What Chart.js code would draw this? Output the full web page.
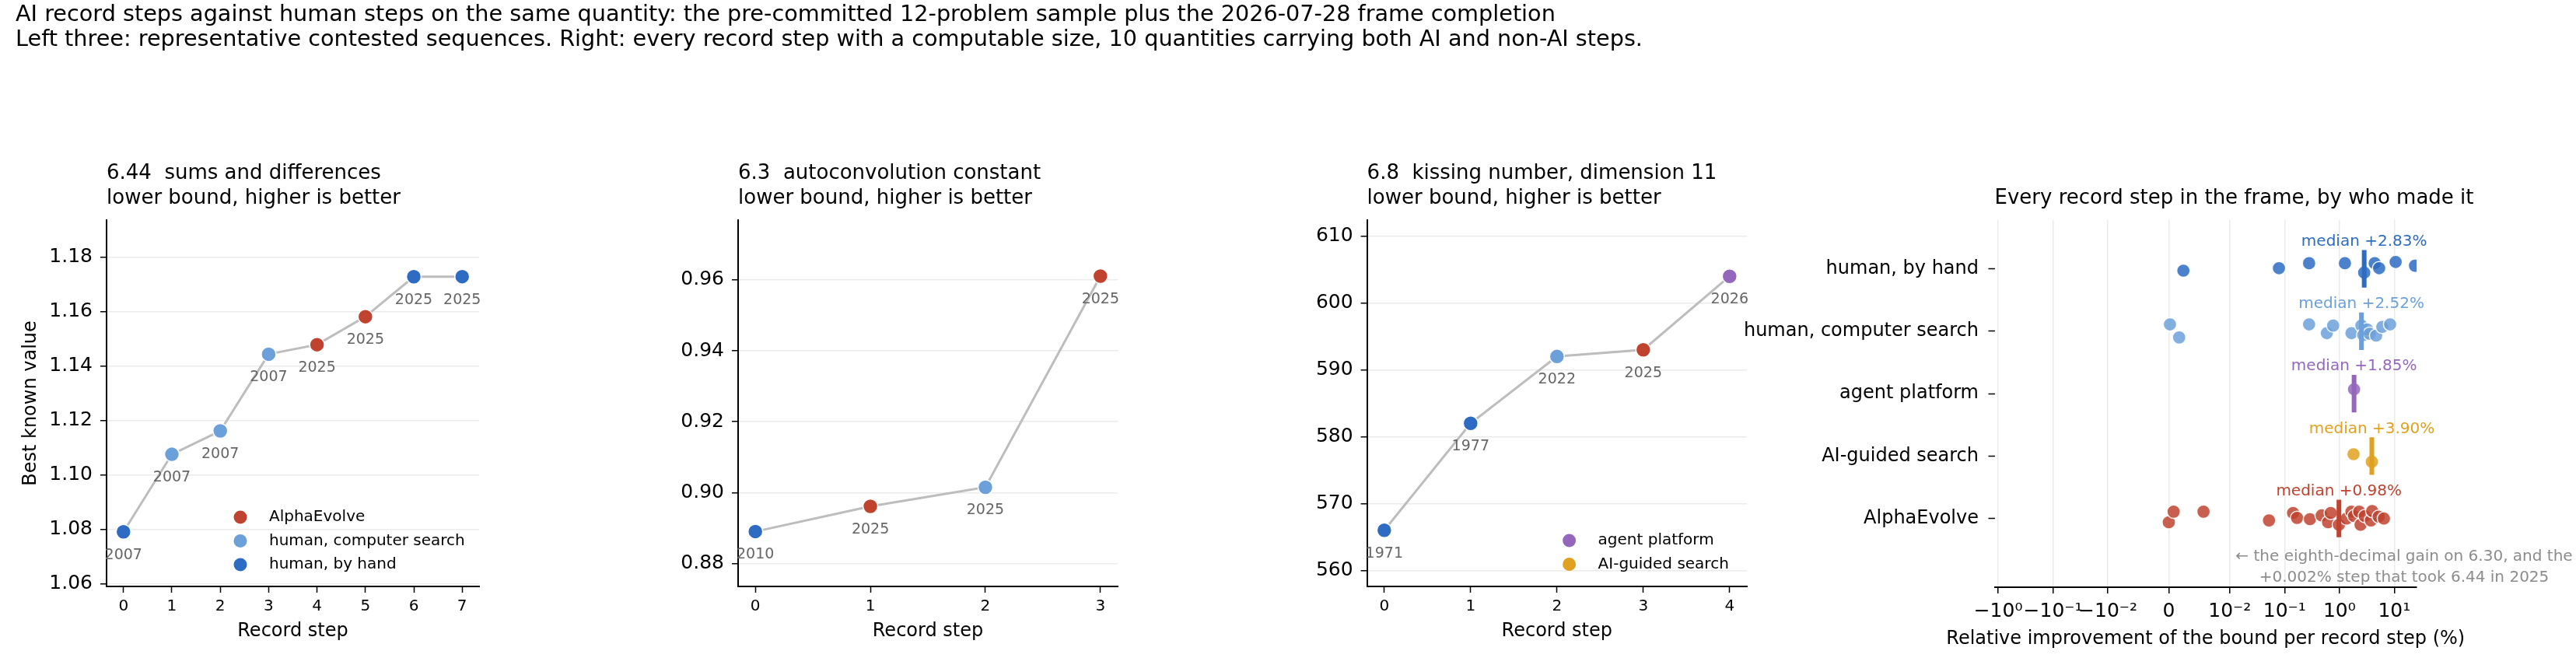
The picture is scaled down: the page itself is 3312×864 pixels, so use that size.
<!DOCTYPE html>
<html>
<head>
<meta charset="utf-8">
<script src="https://cdn.jsdelivr.net/npm/chart.js@4.4.1/dist/chart.umd.min.js"></script>
<style>
html,body{margin:0;padding:0;background:#fff;}
#wrap{position:relative;width:3312px;height:864px;overflow:hidden;background:#fff;}
#wrap canvas{position:absolute;left:0;top:0;width:3312px;height:864px;}
</style>
</head>
<body>
<div id="wrap">
<canvas id="c1" width="3312" height="864"></canvas>
<canvas id="c2" width="3312" height="864"></canvas>
<canvas id="c3" width="3312" height="864"></canvas>
<canvas id="c4" width="3312" height="864"></canvas>
</div>
<script>
// ---------------- DATA ----------------
const supTitle = [
  'AI record steps against human steps on the same quantity: the pre-committed 12-problem sample plus the 2026-07-28 frame completion',
  'Left three: representative contested sequences. Right: every record step with a computable size, 10 quantities carrying both AI and non-AI steps.'
];

const p1Title = ['6.44  sums and differences', 'lower bound, higher is better'];
const p1Steps = [0, 1, 2, 3, 4, 5, 6, 7];
const p1Values = [1.0791, 1.1076, 1.1162, 1.1444, 1.1479, 1.1582, 1.1729, 1.17292];
const p1Who = ['hand', 'comp', 'comp', 'comp', 'ae', 'ae', 'hand', 'hand'];
const p1Years = ['2007', '2007', '2007', '2007', '2025', '2025', '2025', '2025'];
const p1YTicks = [1.06, 1.08, 1.10, 1.12, 1.14, 1.16, 1.18];

const p2Title = ['6.3  autoconvolution constant', 'lower bound, higher is better'];
const p2Steps = [0, 1, 2, 3];
const p2Values = [0.8890, 0.8961, 0.9015, 0.9611];
const p2Who = ['hand', 'ae', 'comp', 'ae'];
const p2Years = ['2010', '2025', '2025', '2025'];
const p2YTicks = [0.88, 0.90, 0.92, 0.94, 0.96];

const p3Title = ['6.8  kissing number, dimension 11', 'lower bound, higher is better'];
const p3Steps = [0, 1, 2, 3, 4];
const p3Values = [566, 582, 592, 593, 604];
const p3Who = ['hand', 'hand', 'comp', 'ae', 'agent'];
const p3Years = ['1971', '1977', '2022', '2025', '2026'];
const p3YTicks = [560, 570, 580, 590, 600, 610];

const p4Title = ['Every record step in the frame, by who made it'];
const p4XTitle = 'Relative improvement of the bound per record step (%)';
const rowKeys = ['hand', 'comp', 'agent', 'aiguided', 'ae'];
const rowLabels = ['human, by hand', 'human, computer search', 'agent platform', 'AI-guided search', 'AlphaEvolve'];
// relative improvement per record step, in percent
const byHandSteps = [0.0024, 0.079, 0.28, 1.26, 2.83, 4.4, 5.3, 10.6, 23.9];
const byHandJitter = [0.03, -0.01, -0.09, -0.09, 0.06, -0.09, -0.01, -0.11, -0.05];
const compSearchSteps = [0.0002, 0.0017, 0.28, 0.59, 0.77, 1.66, 2.52, 2.72, 3.2, 3.56, 4.67, 6.05, 8.4];
const compSearchJitter = [-0.11, 0.10, -0.11, 0.03, -0.09, 0.03, -0.09, 0.06, -0.03, 0.04, 0.07, -0.07, -0.11];
const agentSteps = [1.85];
const agentJitter = [-0.07];
const aiGuidedSteps = [1.81, 3.90];
const aiGuidedJitter = [-0.03, 0.09];
const alphaEvolveSteps = [0.000001, 0.0008, 0.0057, 0.052, 0.143, 0.169, 0.29, 0.474, 0.622, 0.695, 0.98, 1.35, 1.66, 1.85, 2.30, 2.43, 2.9, 3.75, 3.96, 5.2, 6.47];
const alphaEvolveJitter = [0.06, -0.11, -0.11, 0.03, -0.09, -0.01, 0.01, -0.05, 0.06, -0.09, 0.10, 0.0, -0.11, -0.04, -0.11, 0.10, -0.04, 0.03, -0.12, -0.03, 0.0];
const medians = [2.83, 2.52, 1.85, 3.90, 0.98];
const p4XTicks = [-1, -0.1, -0.01, 0, 0.01, 0.1, 1, 10];
const p4XTickLabels = ['\u221210\u2070', '\u221210\u207B\u00B9', '\u221210\u207B\u00B2', '0', '10\u207B\u00B2', '10\u207B\u00B9', '10\u2070', '10\u00B9'];
const noteText = ['\u2190 the eighth-decimal gain on 6.30, and the', '+0.002% step that took 6.44 in 2025'];

// ---------------- STYLE ----------------
const FONT = '"DejaVu Sans", "Noto Sans", sans-serif';
Chart.defaults.font.family = FONT;
const RGB = {
  ae: [192, 67, 47],
  comp: [108, 160, 219],
  hand: [45, 108, 194],
  agent: [148, 103, 189],
  aiguided: [224, 161, 32]
};
const solid = k => `rgb(${RGB[k].join(',')})`;
const alpha = (k, a) => `rgba(${RGB[k].join(',')},${a})`;
const labelOf = {ae: 'AlphaEvolve', comp: 'human, computer search', hand: 'human, by hand', agent: 'agent platform', aiguided: 'AI-guided search'};

// ---------------- SYMLOG SCALE ----------------
const LINTHRESH = 0.01, LINSCALE = 1, BASE = 10;
const LINADJ = LINSCALE / (1 - 1 / BASE);
function symT(v) {
  const a = Math.abs(v);
  if (a <= LINTHRESH) return v / LINTHRESH * LINADJ;
  return Math.sign(v) * (LINADJ + Math.log10(a / LINTHRESH));
}
function symInv(t) {
  const a = Math.abs(t);
  if (a <= LINADJ) return t / LINADJ * LINTHRESH;
  return Math.sign(t) * LINTHRESH * Math.pow(10, a - LINADJ);
}
class SymlogScale extends Chart.Scale {
  determineDataLimits() {
    const mm = this.getMinMax(true);
    this.min = this.options.min ?? mm.min;
    this.max = this.options.max ?? mm.max;
  }
  buildTicks() { return []; }
  getLabelForValue(v) { return String(v); }
  configure() {
    super.configure();
    this._t0 = symT(this.min);
    this._t1 = symT(this.max);
  }
  getPixelForValue(v) {
    return this.getPixelForDecimal((symT(v) - this._t0) / (this._t1 - this._t0));
  }
  getValueForPixel(p) {
    const d = this.getDecimalForPixel(p);
    return symInv(this._t0 + d * (this._t1 - this._t0));
  }
}
SymlogScale.id = 'symlog';
SymlogScale.defaults = {};
Chart.register(SymlogScale);

// ---------------- OVERLAY PLUGIN ----------------
const overlay = {
  id: 'overlay',
  afterDraw(chart, args, o) {
    const ctx = chart.ctx, ca = chart.chartArea;
    ctx.save();
    if (o.suptitle) {
      ctx.textBaseline = 'alphabetic';
      ctx.font = `28.7px ${FONT}`; ctx.fillStyle = '#000'; ctx.textAlign = 'left';
      o.suptitle.forEach((t, i) => ctx.fillText(t, o.supX, o.supY[i]));
    }
    ctx.textBaseline = 'middle';
    if (o.title) {
      ctx.font = `26px ${FONT}`; ctx.fillStyle = '#000'; ctx.textAlign = 'left';
      o.title.forEach((t, i) => ctx.fillText(t, ca.left, o.titleY[i]));
    }
    if (o.xtitle) {
      ctx.font = `24px ${FONT}`; ctx.fillStyle = '#000'; ctx.textAlign = 'center';
      ctx.fillText(o.xtitle, (ca.left + ca.right) / 2, 822);
    }
    if (o.years) {
      const meta = chart.getDatasetMeta(0);
      ctx.font = `19px ${FONT}`; ctx.fillStyle = '#666666'; ctx.textAlign = 'center';
      meta.data.forEach((el, i) => ctx.fillText(o.years[i], el.x, el.y + 30));
    }
    if (o.legend) {
      ctx.font = `20px ${FONT}`; ctx.textAlign = 'left';
      o.legend.keys.forEach((k, i) => {
        const y = o.legend.y + i * 30.5;
        ctx.beginPath(); ctx.arc(o.legend.x, y, 8.5, 0, 2 * Math.PI);
        ctx.fillStyle = solid(k); ctx.fill();
        ctx.fillStyle = '#000'; ctx.fillText(labelOf[k], o.legend.x + 37, y);
      });
    }
    if (o.medians) {
      const xs = chart.scales.x, ys = chart.scales.y;
      ctx.font = `20px ${FONT}`; ctx.textAlign = 'center';
      o.medians.forEach((m, i) => {
        ctx.fillStyle = solid(rowKeys[i]);
        ctx.fillText('median +' + m.toFixed(2) + '%', xs.getPixelForValue(m), ys.getPixelForValue(i) - 35);
      });
    }
    if (o.note) {
      ctx.font = `20px ${FONT}`; ctx.textAlign = 'center'; ctx.fillStyle = '#8c8c8c';
      o.note.forEach((t, i) => ctx.fillText(t, 3091, 716 + i * 27));
    }
    ctx.restore();
  }
};

// ---------------- LINE PANELS ----------------
function linePanel(id, cfg) {
  const padLeft = cfg.L - cfg.W;
  new Chart(document.getElementById(id), {
    type: 'scatter',
    data: {
      datasets: [{
        data: cfg.steps.map((s, i) => ({x: s, y: cfg.values[i]})),
        showLine: true,
        borderColor: '#bdbdbd',
        borderWidth: 3,
        pointRadius: 9.5,
        pointHoverRadius: 9.5,
        pointBackgroundColor: cfg.who.map(solid),
        pointBorderColor: '#ffffff',
        pointBorderWidth: 1.5,
        clip: false
      }]
    },
    options: {
      responsive: false,
      animation: false,
      devicePixelRatio: 1,
      events: [],
      layout: {autoPadding: false, padding: {left: padLeft, right: 3312 - cfg.R, top: 283, bottom: 864 - 754 - 72.4}},
      plugins: {
        legend: {display: false},
        tooltip: {enabled: false},
        overlay: {
          suptitle: cfg.sup ? supTitle : null, supX: 20, supY: [27, 59],
          title: cfg.title, titleY: [223, 255],
          years: cfg.years,
          legend: cfg.legend
        }
      },
      scales: {
        x: {
          type: 'linear', min: cfg.xmin, max: cfg.xmax,
          afterBuildTicks: s => { s.ticks = cfg.steps.map(v => ({value: v})); },
          afterFit: s => { s.height = 72.4; },
          ticks: {font: {size: 20}, color: '#000', padding: 6, callback: v => String(v)},
          grid: {display: true, drawOnChartArea: false, drawTicks: true, tickLength: 8, tickColor: '#000', tickWidth: 1.5},
          border: {display: true, color: '#000', width: 2},
          title: {display: true, text: 'Record step', color: '#000', font: {size: 24}, padding: {top: 0, bottom: 0}}
        },
        y: {
          type: 'linear', min: cfg.ymin, max: cfg.ymax,
          afterBuildTicks: s => { s.ticks = cfg.yticks.map(v => ({value: v})); },
          afterFit: s => { s.width = cfg.W; },
          ticks: {font: {size: 25}, color: '#000', padding: 10, callback: cfg.fmt},
          grid: {display: true, color: '#ebebeb', lineWidth: 1.5, drawTicks: true, tickLength: 8, tickColor: '#000', tickWidth: 1.5},
          border: {display: true, color: '#000', width: 2},
          title: {display: !!cfg.ytitle, text: cfg.ytitle || '', color: '#000', font: {size: 24}, padding: {top: 0, bottom: 0}}
        }
      }
    },
    plugins: [overlay]
  });
}

linePanel('c1', {
  sup: true, title: p1Title, steps: p1Steps, values: p1Values, who: p1Who, years: p1Years,
  yticks: p1YTicks, ymin: 1.059, ymax: 1.1937, xmin: -0.35, xmax: 7.35,
  L: 137, R: 616, W: 111.4, ytitle: 'Best known value', fmt: v => v.toFixed(2),
  legend: {keys: ['ae', 'comp', 'hand'], x: 309, y: 665}
});
linePanel('c2', {
  title: p2Title, steps: p2Steps, values: p2Values, who: p2Who, years: p2Years,
  yticks: p2YTicks, ymin: 0.8735, ymax: 0.9769, xmin: -0.15, xmax: 3.15,
  L: 949, R: 1437, W: 120, fmt: v => v.toFixed(2)
});
linePanel('c3', {
  title: p3Title, steps: p3Steps, values: p3Values, who: p3Who, years: p3Years,
  yticks: p3YTicks, ymin: 557.6, ymax: 612.4, xmin: -0.2, xmax: 4.2,
  L: 1757.6, R: 2246, W: 120, fmt: v => String(Math.round(v)),
  legend: {keys: ['agent', 'aiguided'], x: 2017.6, y: 695}
});

// ---------------- STRIP PANEL ----------------
const rowSteps = [byHandSteps, compSearchSteps, agentSteps, aiGuidedSteps, alphaEvolveSteps];
const rowJitter = [byHandJitter, compSearchJitter, agentJitter, aiGuidedJitter, alphaEvolveJitter];
const stripSets = rowSteps.map((vals, r) => ({
  data: vals.map((v, k) => ({x: v, y: r + rowJitter[r][k]})),
  pointRadius: 8.6,
  pointHoverRadius: 8.6,
  pointBackgroundColor: alpha(rowKeys[r], 0.85),
  pointBorderColor: 'rgba(255,255,255,0.9)',
  pointBorderWidth: 1.5,
  showLine: false,
  clip: 0,
  order: 1
}));
const medianSets = medians.map((m, r) => ({
  data: [{x: m, y: r - 0.3}, {x: m, y: r + 0.3}],
  showLine: true,
  borderColor: solid(rowKeys[r]),
  borderWidth: 6,
  borderCapStyle: 'butt',
  pointRadius: 0,
  pointHoverRadius: 0,
  clip: 0,
  order: -1
}));
new Chart(document.getElementById('c4'), {
  type: 'scatter',
  data: {datasets: stripSets.concat(medianSets)},
  options: {
    responsive: false,
    animation: false,
    devicePixelRatio: 1,
    events: [],
    layout: {autoPadding: false, padding: {left: 2200, right: 3312 - 3107, top: 283, bottom: 864 - 755 - 81.1}},
    plugins: {
      legend: {display: false},
      tooltip: {enabled: false},
      overlay: {title: p4Title, titleY: [255], xtitle: p4XTitle, medians: medians, note: noteText}
    },
    scales: {
      x: {
        type: 'symlog', min: -1.16, max: 25.5,
        afterBuildTicks: s => { s.ticks = p4XTicks.map(v => ({value: v})); },
        afterFit: s => { s.height = 81.1; },
        ticks: {font: {size: 25}, color: '#000', padding: 8, autoSkip: false, maxRotation: 0,
          callback: (v) => p4XTickLabels[p4XTicks.indexOf(v)]},
        grid: {display: true, drawOnChartArea: true, color: '#ebebeb', lineWidth: 1.5, drawTicks: true, tickLength: 8, tickColor: '#000', tickWidth: 1.5},
        border: {display: true, color: '#000', width: 2},
        title: {display: false}
      },
      y: {
        type: 'linear', min: -0.78, max: 5.1, reverse: true,
        afterBuildTicks: s => { s.ticks = rowLabels.map((_, i) => ({value: i})); },
        afterFit: s => { s.width = 364.5; },
        ticks: {font: {size: 24}, color: '#000', padding: 12.5, autoSkip: false, callback: v => rowLabels[v]},
        grid: {display: true, drawOnChartArea: false, drawTicks: true, tickLength: 8, tickColor: '#000', tickWidth: 1.5},
        border: {display: false}
      }
    }
  },
  plugins: [overlay]
});
</script>
</body>
</html>
